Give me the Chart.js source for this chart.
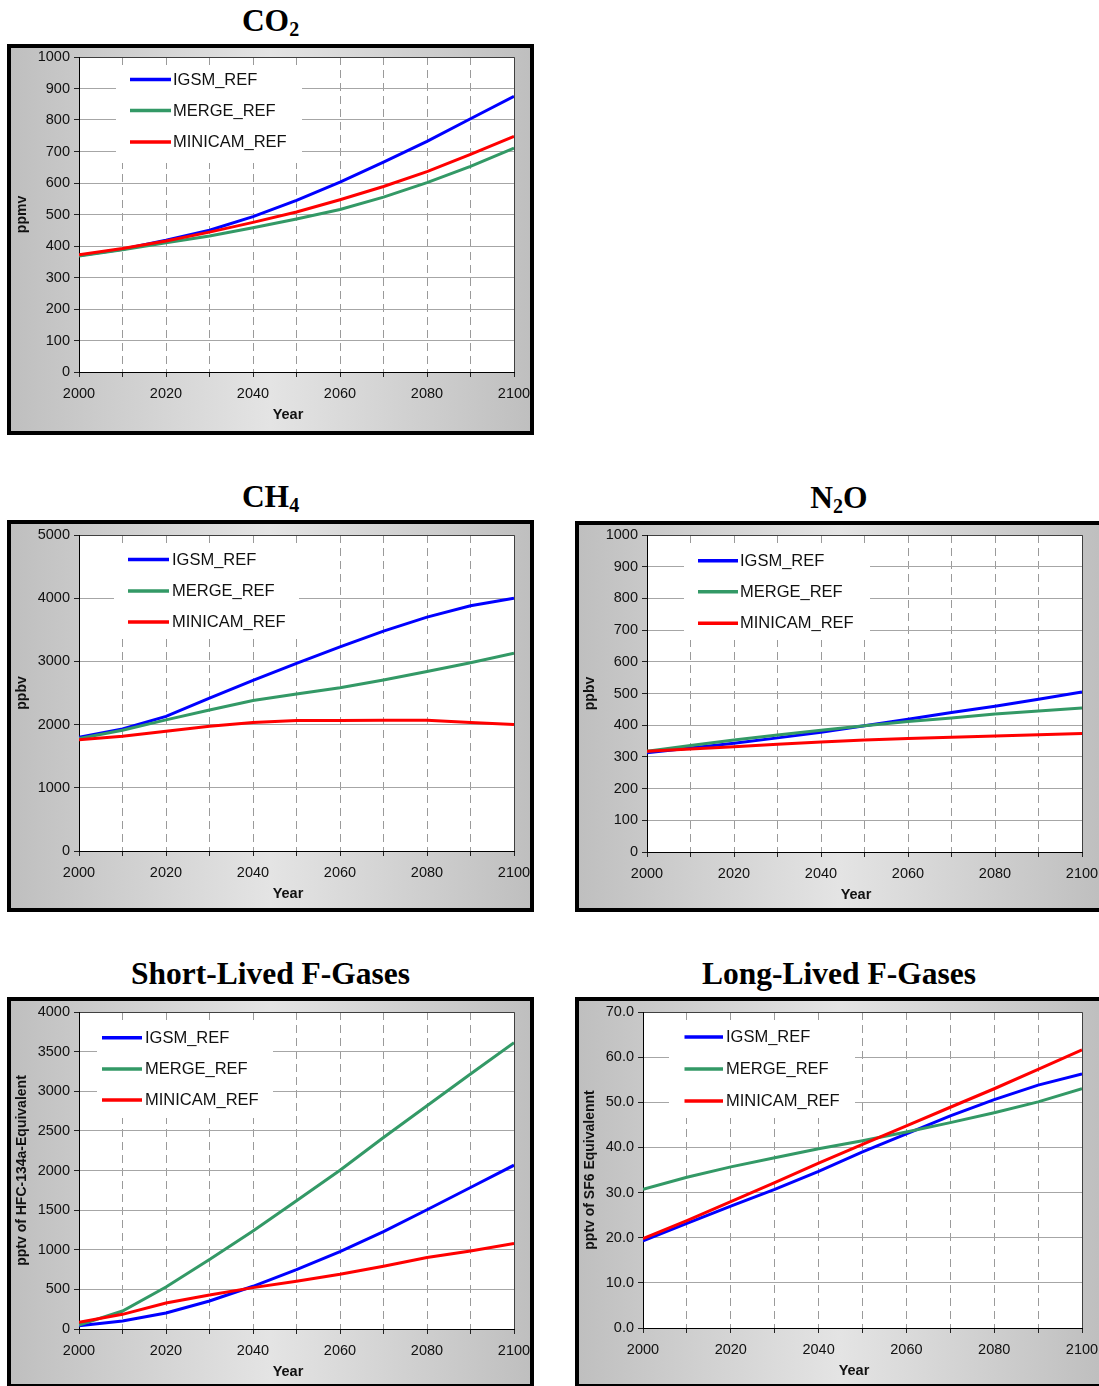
<!DOCTYPE html>
<html><head><meta charset="utf-8">
<script src="https://cdn.jsdelivr.net/npm/chart.js@4.4.0/dist/chart.umd.min.js"></script>
<style>
html,body{margin:0;padding:0;background:#fff;width:1099px;height:1386px;overflow:hidden;position:relative;}
.box{position:absolute;box-sizing:border-box;border:4px solid #000;background:linear-gradient(to right,#bfbfbf 0%,#e4e4e4 50%,#bfbfbf 100%);}
.title{position:absolute;width:600px;font-family:'Liberation Serif','Times New Roman',serif;font-weight:bold;font-size:31.5px;line-height:31px;text-align:center;white-space:nowrap;color:#000;}
.title sub{font-size:20px;vertical-align:baseline;position:relative;top:5px;}
canvas{position:absolute;}
</style></head><body>
<script>
// ---------- data ----------
const years = [2000,2010,2020,2030,2040,2050,2060,2070,2080,2090,2100];
const xTickLabels = ['2000','2020','2040','2060','2080','2100'];
const seriesNames = ['IGSM_REF','MERGE_REF','MINICAM_REF'];
const seriesColors = ['#0000FF','#339966','#FF0000'];

const co2Igsm    = [370,390,418,450,493,545,603,666,732,804,875];
const co2Merge   = [368,388,410,432,458,486,516,555,601,653,711];
const co2Minicam = [372,392,416,444,475,508,547,589,636,691,748];

const ch4Igsm    = [1800,1930,2130,2420,2700,2970,3230,3480,3700,3880,4000];
const ch4Merge   = [1780,1910,2075,2230,2380,2485,2582,2705,2840,2978,3130];
const ch4Minicam = [1760,1815,1895,1975,2035,2063,2065,2070,2068,2035,2002];

const n2oIgsm    = [313,328,343,360,378,398,419,440,460,482,505];
const n2oMerge   = [318,336,353,369,384,398,412,423,435,445,454];
const n2oMinicam = [318,325,332,340,347,353,358,362,366,370,374];

const shortIgsm    = [40,100,202,354,539,749,977,1229,1505,1785,2067];
const shortMerge   = [50,227,530,876,1238,1617,2004,2417,2817,3217,3613];
const shortMinicam = [84,185,328,429,522,602,690,791,901,985,1078];

const longIgsm    = [19.3,23.2,27.0,30.7,34.7,39.0,43.0,47.0,50.6,53.8,56.3];
const longMerge   = [30.7,33.4,35.7,37.7,39.7,41.5,43.4,45.5,47.7,50.1,53.0];
const longMinicam = [19.8,23.8,28.0,32.2,36.5,40.7,44.8,48.9,53.0,57.3,61.6];

const titles = ['CO<sub>2</sub>','CH<sub>4</sub>','N<sub>2</sub>O','Short-Lived F-Gases','Long-Lived F-Gases'];
const yTitles = ['ppmv','ppbv','ppbv','pptv of HFC-134a-Equivalent','pptv of SF6 Equivalennt'];
const yMaxes = [1000,5000,1000,4000,70];
const ySteps = [100,1000,100,500,10];
const yDecimals = [0,0,0,0,1];
const xTitle = 'Year';

// ---------- layout ----------
const SANS = "'Liberation Sans', Arial, sans-serif";
const panels = [
  {box:[7,44,527,391],  plot:[79,57,514,372],   data:[co2Igsm,co2Merge,co2Minicam],
   leg:{sx1:51,sx2:92,tx:94,rows:[22.5,53.5,85],boxL:37,boxR:223,boxT:10,boxB:106}},
  {box:[7,520,527,392], plot:[79,535,514,851],  data:[ch4Igsm,ch4Merge,ch4Minicam],
   leg:{sx1:49,sx2:90,tx:93,rows:[24.5,56,87],boxL:35,boxR:220,boxT:9,boxB:104}},
  {box:[575,521,528,391],plot:[647,535,1082,852],data:[n2oIgsm,n2oMerge,n2oMinicam],
   leg:{sx1:51,sx2:91,tx:93,rows:[25.7,56.7,88.3],boxL:37,boxR:223,boxT:8,boxB:105}},
  {box:[7,997,527,391], plot:[79,1012,514,1329], data:[shortIgsm,shortMerge,shortMinicam],
   leg:{sx1:23,sx2:63,tx:66,rows:[25.7,57,88],boxL:18,boxR:194,boxT:10,boxB:106}},
  {box:[575,997,528,391],plot:[643,1012,1082,1328],data:[longIgsm,longMerge,longMinicam],
   leg:{sx1:41.5,sx2:80,tx:83,rows:[25,57,89],boxL:26,boxR:212,boxT:10,boxB:106}}
];

const plotBgPlugin = {
  id:'plotBg',
  beforeDraw(chart){
    const {ctx, chartArea:a} = chart;
    ctx.save(); ctx.fillStyle='#fff';
    ctx.fillRect(a.left,a.top,a.right-a.left,a.bottom-a.top);
    ctx.restore();
  }
};
const frameLegendPlugin = {
  id:'frameLegend',
  beforeDatasetsDraw(chart, args, opts){
    const {ctx, chartArea:a} = chart;
    ctx.save();
    // frame
    ctx.lineWidth=1;
    ctx.strokeStyle='#404040';
    ctx.beginPath();
    ctx.moveTo(a.left, a.top+0.5); ctx.lineTo(a.right+0.5, a.top+0.5); ctx.lineTo(a.right+0.5, a.bottom);
    ctx.stroke();
    ctx.strokeStyle='#000';
    ctx.beginPath();
    ctx.moveTo(a.left+0.5, a.top); ctx.lineTo(a.left+0.5, a.bottom+0.5); ctx.lineTo(a.right+1, a.bottom+0.5);
    ctx.stroke();
    // legend
    const L = opts.leg;
    ctx.fillStyle='#fff';
    ctx.fillRect(a.left+L.boxL, a.top+L.boxT, L.boxR-L.boxL, L.boxB-L.boxT);
    ctx.font = '16.5px ' + SANS;
    ctx.textBaseline='middle';
    ctx.textAlign='left';
    chart.data.datasets.forEach((ds,i)=>{
      const y = a.top + L.rows[i];
      ctx.strokeStyle = ds.borderColor; ctx.lineWidth = 3.5; ctx.lineCap='butt';
      ctx.beginPath(); ctx.moveTo(a.left+L.sx1, y); ctx.lineTo(a.left+L.sx2, y); ctx.stroke();
      ctx.fillStyle='#111';
      ctx.fillText(ds.label, a.left+L.tx, y+0.5);
    });
    ctx.restore();
  },
  afterDraw(chart, args, opts){
    const {ctx, chartArea:a} = chart;
    ctx.save();
    ctx.font = 'bold 14.5px ' + SANS;
    ctx.fillStyle = '#111';
    ctx.textAlign = 'center';
    ctx.textBaseline = 'middle';
    ctx.fillText(opts.xTitle, (a.left+a.right)/2 - 8.5, a.bottom + 43);
    ctx.restore();
  }
};

panels.forEach((p,pi)=>{
  const [bx,by,bw,bh] = p.box;
  const [pl,pt,pr,pb] = p.plot;
  const box = document.createElement('div');
  box.className='box';
  Object.assign(box.style,{left:bx+'px',top:by+'px',width:bw+'px',height:bh+'px'});
  document.body.appendChild(box);

  const t = document.createElement('div');
  t.className='title';
  t.innerHTML = titles[pi];
  Object.assign(t.style,{left:(bx+bw/2-300)+'px', top:(by-13-26)+'px'});
  document.body.appendChild(t);

  const cx = bx+4, cy = by+4, cw = bw-8, ch = bh-8;
  const cv = document.createElement('canvas');
  cv.width=cw; cv.height=ch;
  Object.assign(cv.style,{left:cx+'px',top:cy+'px',width:cw+'px',height:ch+'px'});
  document.body.appendChild(cv);

  const canvasBottom = cy+ch;
  const dec = yDecimals[pi];

  new Chart(cv.getContext('2d'),{
    type:'line',
    data:{
      datasets: seriesNames.map((n,i)=>({
        label:n,
        data: years.map((yr,k)=>({x:yr,y:p.data[i][k]})),
        borderColor: seriesColors[i],
        backgroundColor: seriesColors[i],
        borderWidth:3,
        pointRadius:0,
        tension:0,
        fill:false,
        order: 2-i
      }))
    },
    options:{
      responsive:false, animation:false, devicePixelRatio:1,
      events:[],
      layout:{padding:{left:0, top:pt-cy, right:(cx+cw)-pr, bottom:0}},
      plugins:{legend:{display:false}, tooltip:{enabled:false}, title:{display:false},
               frameLegend:{leg:p.leg, xTitle:xTitle}},
      scales:{
        x:{
          type:'linear', min:2000, max:2100,
          ticks:{stepSize:10, autoSkip:false, maxRotation:0, minRotation:0, padding:8.5, color:'#111',
                 font:{family:SANS,size:14.5},
                 callback:(v)=> xTickLabels.includes(String(v)) ? String(v) : ''},
          grid:{color:'#9a9a9a', lineWidth:1, tickLength:5, tickColor:'#222', tickWidth:1, tickBorderDash:[], drawTicks:true},
          border:{display:true, color:'#000', width:1, dash:[8,5]},
          title:{display:false},
          afterFit:(s)=>{ s.height = canvasBottom-pb; s.paddingLeft=0; s.paddingRight=0; }
        },
        y:{
          type:'linear', min:0, max:yMaxes[pi],
          ticks:{stepSize:ySteps[pi], autoSkip:false, padding:4, color:'#111',
                 font:{family:SANS,size:14.5},
                 callback:(v)=> Number(v).toFixed(dec)},
          grid:{color:'#a6a6a6', lineWidth:1, tickLength:5, tickColor:'#222', tickWidth:1, tickBorderDash:[], drawTicks:true},
          border:{display:true, color:'#000', width:1, dash:[]},
          title:{display:true, text:yTitles[pi], color:'#111', font:{family:SANS,size:14,weight:'bold'},
                 padding:{top:2.6,bottom:0}},
          afterFit:(s)=>{ s.width = pl-cx; s.paddingTop=0; s.paddingBottom=0; }
        }
      }
    },
    plugins:[plotBgPlugin, frameLegendPlugin]
  });
});
</script>
</body></html>
